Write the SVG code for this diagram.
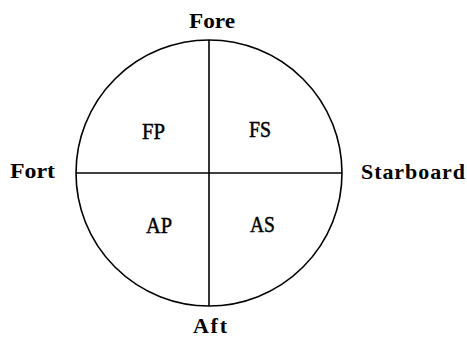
<svg xmlns="http://www.w3.org/2000/svg" width="467" height="343" viewBox="0 0 467 343">
<style>
.ln{stroke:#000;stroke-width:1.6;fill:none}
.out{font-family:"Liberation Serif",serif;font-weight:bold;font-size:22px;fill:#000}
.in{font-family:"Liberation Serif",serif;font-size:24px;fill:#000;stroke:#000;stroke-width:0.5}
</style>
<rect width="467" height="343" fill="#fff"/>
<g id="connectors">
<circle class="ln" cx="209" cy="173" r="133"/>
<line class="ln" x1="209" y1="40" x2="209" y2="306"/>
<line class="ln" x1="76" y1="173" x2="342" y2="173"/>
</g>
<g id="fore"><text class="out" x="189" y="28" textLength="46" lengthAdjust="spacingAndGlyphs">Fore</text></g>
<g id="fort"><text class="out" x="10" y="178" textLength="45" lengthAdjust="spacingAndGlyphs">Fort</text></g>
<g id="starboard"><text class="out" x="361" y="179" textLength="104" lengthAdjust="spacing">Starboard</text></g>
<g id="aft"><text class="out" x="193" y="333" textLength="34" lengthAdjust="spacing">Aft</text></g>
<g id="fp"><text class="in" x="142" y="139" textLength="23" lengthAdjust="spacingAndGlyphs">FP</text></g>
<g id="fs"><text class="in" x="249" y="137" textLength="22" lengthAdjust="spacingAndGlyphs">FS</text></g>
<g id="ap"><text class="in" x="146" y="233" textLength="26" lengthAdjust="spacingAndGlyphs">AP</text></g>
<g id="as"><text class="in" x="250" y="232" textLength="25" lengthAdjust="spacingAndGlyphs">AS</text></g>
</svg>
